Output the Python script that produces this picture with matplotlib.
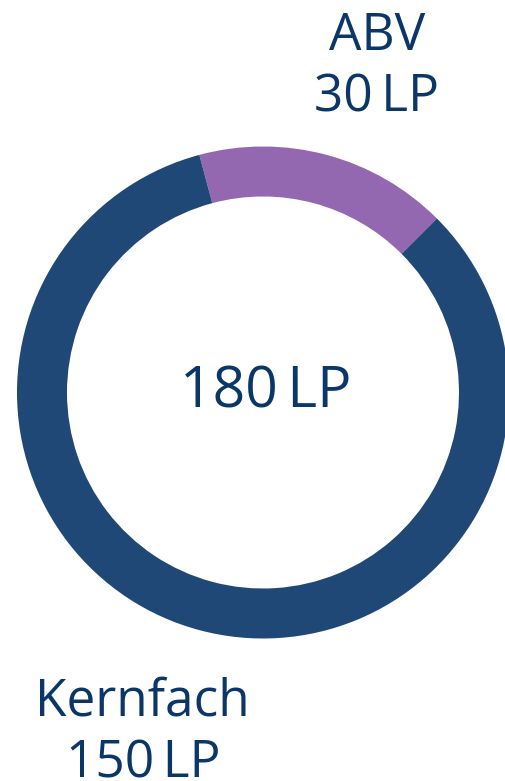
import matplotlib
matplotlib.use("Agg")
import matplotlib.pyplot as plt

# study credits (LP) per part
labels = ["ABV", "Kernfach"]
credits = [30, 150]
colors = ["#9467b1", "#1f4876"]
total = sum(credits)

W, H = 505, 781
fig = plt.figure(figsize=(W / 100, H / 100), dpi=100)
ax = fig.add_axes([0, 0, 1, 1])

cx, cy, R = 263, H - 392.5, 246
ax.pie(credits, colors=colors, startangle=45, counterclock=True,
       center=(cx, cy), radius=R, frame=True,
       wedgeprops=dict(width=50, linewidth=0))
ax.set_xlim(0, W)
ax.set_ylim(0, H)
ax.set_aspect("equal")
ax.axis("off")

txt = "#0b3768"
font = ["Open Sans", "DejaVu Sans"]
sp = "\u2009"
ax.text(cx + 3, cy, f"{total}{sp}LP", ha="center", va="center",
        fontsize=41, color=txt, family=font)
ax.text(377, H - 50, labels[0], ha="center", va="baseline",
        fontsize=37, color=txt, family=font)
ax.text(377, H - 112, f"{credits[0]}{sp}LP", ha="center", va="baseline",
        fontsize=37, color=txt, family=font)
ax.text(142, H - 715, labels[1], ha="center", va="baseline",
        fontsize=37, color=txt, family=font)
ax.text(143, H - 777, f"{credits[1]}{sp}LP", ha="center", va="baseline",
        fontsize=37, color=txt, family=font)

fig.savefig("out.png", dpi=100)
